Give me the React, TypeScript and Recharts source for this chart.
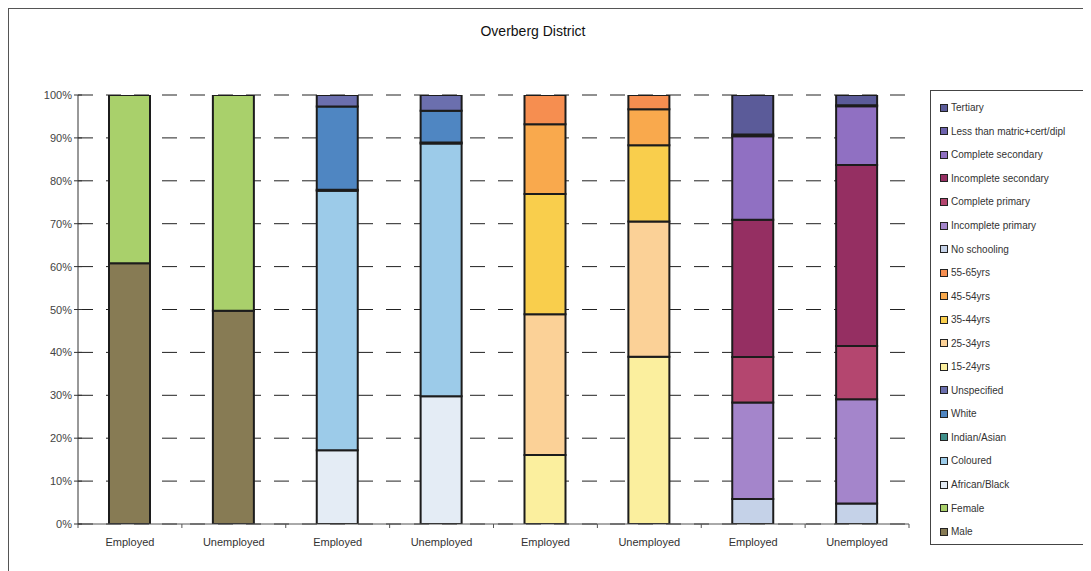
import React from "react";
import {
  BarChart,
  Bar,
  XAxis,
  YAxis,
  CartesianGrid,
  Legend,
} from "recharts";

const FONT = '"Liberation Sans", Arial, sans-serif';

// x-axis categories (one bar each, paired per breakdown)
const barIds = ["gen-emp", "gen-unemp", "race-emp", "race-unemp", "age-emp", "age-unemp", "edu-emp", "edu-unemp"];
const barLabels = ["Employed", "Unemployed", "Employed", "Unemployed", "Employed", "Unemployed", "Employed", "Unemployed"];

// series per breakdown, listed bottom to top
const genderSeries = ["Male", "Female"];
const genderEmployed = [60.8, 39.2];
const genderUnemployed = [49.7, 50.3];

const raceSeries = ["African/Black", "Coloured", "Indian/Asian", "White", "Unspecified"];
const raceEmployed = [17.2, 60.5, 0.2, 19.4, 2.7];
const raceUnemployed = [29.8, 58.9, 0.2, 7.4, 3.7];

const ageSeries = ["15-24yrs", "25-34yrs", "35-44yrs", "45-54yrs", "55-65yrs"];
const ageEmployed = [16.1, 32.8, 28.0, 16.3, 6.8];
const ageUnemployed = [39.0, 31.5, 17.8, 8.4, 3.3];

const eduSeries = [
  "No schooling",
  "Incomplete primary",
  "Complete primary",
  "Incomplete secondary",
  "Complete secondary",
  "Less than matric+cert/dipl",
  "Tertiary",
];
const eduEmployed = [5.8, 22.5, 10.6, 32.0, 19.5, 0.4, 9.2];
const eduUnemployed = [4.8, 24.3, 12.4, 42.2, 13.7, 0.2, 2.4];

const yTicks = [0, 10, 20, 30, 40, 50, 60, 70, 80, 90, 100];

const colors: Record<string, string> = {
  Male: "#877b54",
  Female: "#a9d06b",
  "African/Black": "#e4ecf5",
  Coloured: "#9ccbe9",
  "Indian/Asian": "#3f8f8a",
  White: "#4f86c2",
  Unspecified: "#6b6fae",
  "15-24yrs": "#fbef9e",
  "25-34yrs": "#fbd197",
  "35-44yrs": "#f9ce4c",
  "45-54yrs": "#f9a94d",
  "55-65yrs": "#f68e50",
  "No schooling": "#c5d2e8",
  "Incomplete primary": "#a485cb",
  "Complete primary": "#b4466f",
  "Incomplete secondary": "#952f62",
  "Complete secondary": "#9070c2",
  "Less than matric+cert/dipl": "#6d62ad",
  Tertiary: "#5b5b99",
};

const allSeries = [...genderSeries, ...raceSeries, ...ageSeries, ...eduSeries];

const groupValues: [string[], number[]][] = [
  [genderSeries, genderEmployed],
  [genderSeries, genderUnemployed],
  [raceSeries, raceEmployed],
  [raceSeries, raceUnemployed],
  [ageSeries, ageEmployed],
  [ageSeries, ageUnemployed],
  [eduSeries, eduEmployed],
  [eduSeries, eduUnemployed],
];

const data = barIds.map((id, i) => {
  const row: Record<string, string | number> = { id, label: barLabels[i] };
  const [names, vals] = groupValues[i];
  names.forEach((n, j) => {
    row[n] = vals[j];
  });
  return row;
});

const YTick = ({ x, y, payload }: any) => (
  <g>
    <line x1={x + 1} x2={x + 9} y1={y} y2={y} stroke="#333" strokeWidth={1} />
    <text x={x - 1} y={y} dy={4} textAnchor="end" fontSize={11} fill="#444" fontFamily={FONT}>
      {payload.value}%
    </text>
  </g>
);

const XTick = ({ x, y, index, width, visibleTicksCount }: any) => {
  const band = width / visibleTicksCount;
  return (
    <g>
      <line x1={x - band / 2} x2={x - band / 2} y1={y} y2={y + 4} stroke="#555" />
      {index === visibleTicksCount - 1 && (
        <line x1={x + band / 2} x2={x + band / 2} y1={y} y2={y + 4} stroke="#555" />
      )}
      <text x={x} y={y + 22} textAnchor="middle" fontSize={11} fill="#333" fontFamily={FONT}>
        {barLabels[index]}
      </text>
    </g>
  );
};

const LegendBox = () => (
  <div
    style={{
      width: 155,
      height: 455,
      boxSizing: "border-box",
      border: "1px solid #444",
      paddingTop: 5,
      background: "#fff",
    }}
  >
    {[...allSeries].reverse().map((name) => (
      <div
        key={name}
        style={{ height: 23.55, display: "flex", alignItems: "center", paddingLeft: 9 }}
      >
        <span
          style={{
            width: 6,
            height: 6,
            background: colors[name],
            border: "1px solid #222",
            marginRight: 3,
            flexShrink: 0,
          }}
        />
        <span style={{ fontSize: 10, color: "#333", fontFamily: FONT, whiteSpace: "nowrap" }}>
          {name}
        </span>
      </div>
    ))}
  </div>
);

export default function App() {
  return (
    <div
      style={{
        position: "relative",
        width: 1082,
        height: 562,
        borderLeft: "1px solid #555",
        borderTop: "1px solid #555",
        background: "#fff",
        overflow: "hidden",
        fontFamily: FONT,
      }}
    >
      <style>{"html,body{overflow:hidden}"}</style>
      <div
        style={{
          position: "absolute",
          left: 0,
          top: 14,
          width: 1048,
          textAlign: "center",
          fontSize: 14,
          color: "#111",
        }}
      >
        Overberg District
      </div>
      <div style={{ position: "absolute", left: 0, top: 0 }}>
        {/* the vertical legend on the right reserves its own width, so the right margin is small */}
        <BarChart
          width={1075}
          height={555}
          data={data}
          barSize={41}
          margin={{ top: 86, right: 20, left: 29, bottom: 10 }}
        >
          <CartesianGrid
            vertical={false}
            stroke="#222"
            strokeDasharray="15 13"
          />
          <XAxis
            dataKey="id"
            height={30}
            axisLine={{ stroke: "#555" }}
            tickLine={false}
            tickSize={0}
            tickMargin={0}
            tick={<XTick />}
            interval={0}
          />
          <YAxis
            width={40}
            domain={[0, 100]}
            ticks={yTicks}
            allowDataOverflow
            axisLine={{ stroke: "#333" }}
            tickLine={false}
            tickSize={4}
            tickMargin={1}
            tick={<YTick />}
            interval={0}
          />
          <Legend
            content={<LegendBox />}
            layout="vertical"
            verticalAlign="top"
            align="right"
            wrapperStyle={{ left: 921, top: 81, width: 155 }}
          />
          {allSeries.map((name) => (
            <Bar
              key={name}
              dataKey={name}
              stackId="s"
              fill={colors[name]}
              stroke="#1c1c1c"
              strokeWidth={2}
              isAnimationActive={false}
            />
          ))}
        </BarChart>
      </div>
    </div>
  );
}
